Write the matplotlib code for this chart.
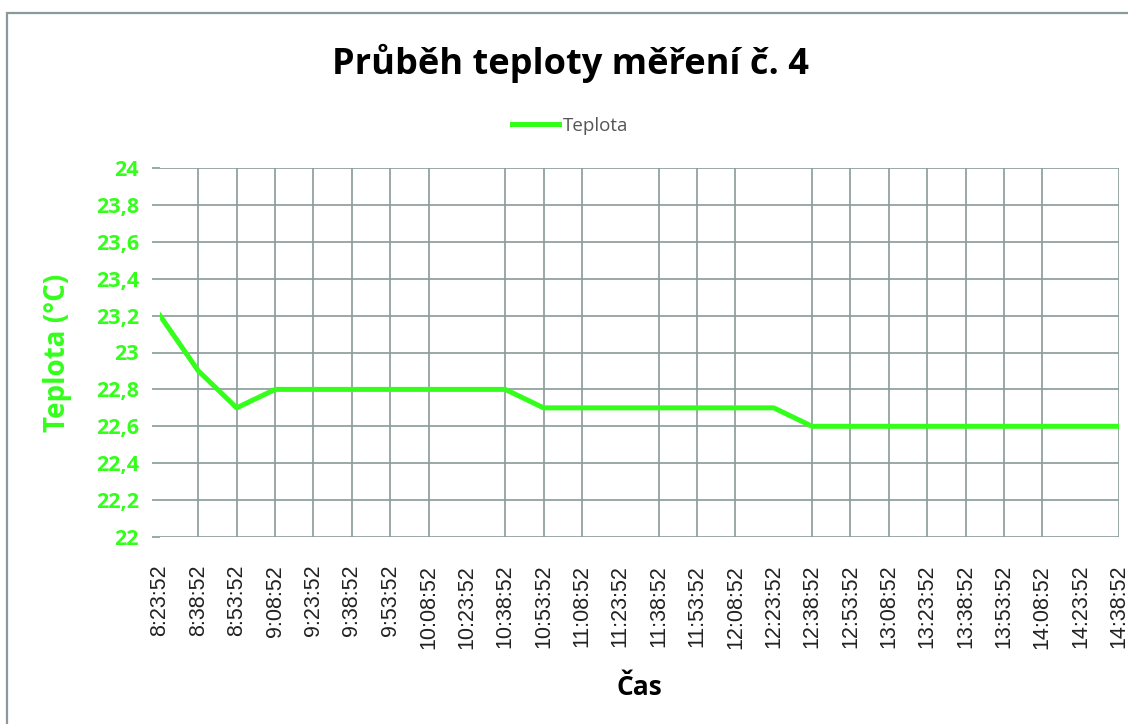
import matplotlib
matplotlib.use("Agg")
import matplotlib.pyplot as plt
from matplotlib.patches import Rectangle
from matplotlib.ticker import FixedLocator

# Data
casy = ["8:23:52", "8:38:52", "8:53:52", "9:08:52", "9:23:52", "9:38:52",
        "9:53:52", "10:08:52", "10:23:52", "10:38:52", "10:53:52", "11:08:52",
        "11:23:52", "11:38:52", "11:53:52", "12:08:52", "12:23:52", "12:38:52",
        "12:53:52", "13:08:52", "13:23:52", "13:38:52", "13:53:52", "14:08:52",
        "14:23:52", "14:38:52"]
teplota = [23.2, 22.9, 22.7, 22.8, 22.8, 22.8, 22.8, 22.8, 22.8, 22.8,
           22.7, 22.7, 22.7, 22.7, 22.7, 22.7, 22.7, 22.6, 22.6, 22.6,
           22.6, 22.6, 22.6, 22.6, 22.6, 22.6]
y_ticks = [22, 22.2, 22.4, 22.6, 22.8, 23, 23.2, 23.4, 23.6, 23.8, 24]
# svislé mřížky, které v originálu chybí
chybi = ["10:23:52", "11:23:52", "12:23:52", "14:23:52"]

zelena = "#33ff1a"
seda = "#8a9a9a"

fig = plt.figure(figsize=(11.28, 7.24), dpi=100)
fig.patch.set_facecolor("white")
ax = fig.add_axes([160 / 1128, 1 - 537 / 724, (1119 - 160) / 1128, (537 - 168) / 724])

x = list(range(len(casy)))
ax.plot(x, teplota, color=zelena, lw=3.6, label="Teplota", zorder=3)

ax.set_xlim(0, len(casy) - 1)
ax.set_ylim(22, 24)

# mřížka
for y in y_ticks:
    ax.axhline(y, color=seda, lw=1.2, zorder=1)
grid_x = [i for i, c in enumerate(casy) if c not in chybi and i > 0]
for i in grid_x:
    ax.axvline(i, color=seda, lw=1.2, zorder=1)

for s in ax.spines.values():
    s.set_visible(False)

ax.set_yticks(y_ticks)
ax.set_yticklabels([f"{v:g}".replace(".", ",") for v in y_ticks])
ax.tick_params(axis="y", length=6, width=1.2, color=seda, pad=9,
               labelsize=15.5, labelcolor=zelena)
for t in ax.get_yticklabels():
    t.set_fontweight("bold")
    t.set_family("Open Sans")

ax.set_xticks(x)
ax.set_xticklabels(casy, rotation=90, family="Liberation Sans", fontsize=15.5,
                   color="#222222", va="top", ha="center")
ax.tick_params(axis="x", which="major", length=0, pad=20)
ax.xaxis.set_minor_locator(FixedLocator(grid_x))
ax.tick_params(axis="x", which="minor", length=5, width=1.2, color=seda)

ax.set_ylabel("Teplota (°C)", family="Open Sans", fontweight="bold",
              fontsize=20, color=zelena, labelpad=17)
ax.set_xlabel("Čas", family="Open Sans", fontweight="bold", fontsize=19,
              color="black", labelpad=18)

fig.text(570 / 1128, 1 - 63 / 724, "Průběh teploty měření č. 4", family="Open Sans",
         fontweight="bold", fontsize=26, ha="center", va="center")

fig.legend(loc="center", bbox_to_anchor=(570 / 1128, 1 - 126 / 724), frameon=False,
           prop={"family": "Open Sans", "size": 13.5}, handlelength=2.5,
           handletextpad=0.2, labelcolor="#555555")

# rámeček grafu
fig.patches.append(Rectangle((7 / 1128, -0.05), 1.2, 1 - 13 / 724 + 0.05,
                             transform=fig.transFigure, fill=False,
                             edgecolor=seda, lw=1.6))

fig.savefig("out.png", dpi=100)
